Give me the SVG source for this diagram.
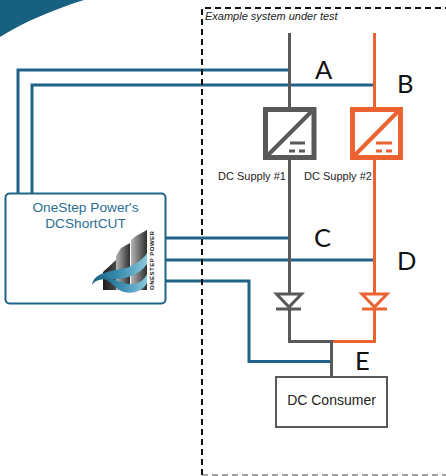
<svg xmlns="http://www.w3.org/2000/svg" width="446" height="476" viewBox="0 0 446 476">
<style>
.b{fill:none;stroke:#1f6488;stroke-width:3}
.g{fill:none;stroke:#595959;stroke-width:3}
.o{fill:none;stroke:#ea6330;stroke-width:3}
.l{font-family:Lato,"Open Sans",sans-serif;font-size:25.500px;fill:#111}
.s{font-family:"Liberation Sans",sans-serif;font-size:11px;fill:#222}
.t{font-family:"Liberation Sans",sans-serif;font-size:13.700px;fill:#2b6f92;text-anchor:middle}
</style>
<defs>
<linearGradient id="bar1" x1="0" x2="1" y1="0" y2="0"><stop offset="0" stop-color="#1c1c1c"/><stop offset="1" stop-color="#4a4a4a"/></linearGradient>
<linearGradient id="bar2" x1="0" x2="1" y1="0" y2="0"><stop offset="0" stop-color="#b5b5b5"/><stop offset="1" stop-color="#2e2e2e"/></linearGradient>
<linearGradient id="sw" x1="0" x2="1" y1="0" y2="0"><stop offset="0" stop-color="#17607f"/><stop offset="0.500" stop-color="#3a8fb2"/><stop offset="1" stop-color="#8cc8dc"/></linearGradient>
</defs>
<rect width="446" height="476" fill="#fff"/>
<path id="corner" d="M0 0H84C52 10 24 22 0 37Z" fill="#17607f"/>
<g id="connectors">
<path class="b" d="M18 193V70H289"/>
<path class="b" d="M32 193V85H373"/>
<path class="b" d="M165 238H289"/>
<path class="b" d="M165 260H373"/>
<path class="b" d="M165 281H249V361.500H331"/>
<path class="g" d="M289.500 33V107M289.500 159V293M289.500 307V341.500H331.500M331.500 340V377"/>
<path class="o" d="M374.500 33V107M374.500 159V293M374.500 307V341.500H333"/>
</g>
<g id="boundary"><path d="M202 475V8H446" fill="none" stroke="#111" stroke-width="2" stroke-dasharray="6 4"/><path d="M202 475H446" fill="none" stroke="#444" stroke-width="1" stroke-dasharray="6 4"/>
<text class="s" x="205" y="20" font-style="italic">Example system under test</text></g>
<g id="supply1">
<rect x="265.500" y="109.500" width="48.500" height="48" fill="#fff" stroke="#595959" stroke-width="5"/>
<path d="M314 109L265 158" fill="none" stroke="#595959" stroke-width="4"/>
<path d="M290 143H305" fill="none" stroke="#595959" stroke-width="3"/><path d="M289 151H305" fill="none" stroke="#595959" stroke-width="3" stroke-dasharray="6 4"/>
<text class="s" x="218" y="180">DC Supply #1</text>
</g>
<g id="supply2">
<rect x="352.500" y="109.500" width="48" height="48" fill="#fff" stroke="#ea6330" stroke-width="5"/>
<path d="M400.500 109L352 158" fill="none" stroke="#ea6330" stroke-width="4"/>
<path d="M376 143H392" fill="none" stroke="#ea6330" stroke-width="3"/><path d="M376 151H392" fill="none" stroke="#ea6330" stroke-width="3" stroke-dasharray="6 4"/>
<text class="s" x="304" y="180">DC Supply #2</text>
</g>
<g id="diode1"><path d="M276.500 294H301.500L289 307Z" fill="#fff" stroke="#595959" stroke-width="3"/><path d="M276 309H301" class="g"/></g>
<g id="diode2"><path d="M362 294H387L374.500 307Z" fill="#fff" stroke="#ea6330" stroke-width="3"/><path d="M362 309H387" class="o"/></g>
<g id="consumer"><rect x="276" y="377" width="111" height="50" fill="#fff" stroke="#595959" stroke-width="2"/><text x="331.500" y="405" text-anchor="middle" font-family="Liberation Sans,sans-serif" font-size="14" fill="#222">DC Consumer</text></g>
<g id="dcshortcut">
<rect x="5.500" y="193.500" width="160" height="110" rx="4" fill="#fff" stroke="#1f6488" stroke-width="2"/>
<text class="t" x="85.500" y="212">OneStep Power's</text>
<text class="t" x="85.500" y="228">DCShortCUT</text>
<path d="M103 290V272L116 260V290Z" fill="url(#bar1)"/>
<path d="M116 290V256L121 248L130 243V290Z" fill="url(#bar2)"/>
<path d="M131 290V240L136 236L147 230V290Z" fill="url(#bar2)"/>
<path d="M92 285C94 272 112 271 122 269C132 267 142 261 147 253V264C140 274 128 278 118 279C106 279 96 278 92 285Z" fill="url(#sw)"/>
<path d="M98 277C112 276 120 283 128 284C136 285 143 282 147 274V283C142 292 132 294 124 292C116 290 112 280 98 277Z" fill="url(#sw)"/>
<text transform="translate(154 290) rotate(-90)" font-family="Liberation Sans,sans-serif" font-size="6" font-weight="bold" letter-spacing="0.500" fill="#222">ONESTEP POWER</text>
</g>
<text class="l" x="315" y="79">A</text>
<text class="l" x="397" y="93">B</text>
<text class="l" x="314" y="247">C</text>
<text class="l" x="397" y="270">D</text>
<text class="l" x="355" y="370">E</text>
</svg>
